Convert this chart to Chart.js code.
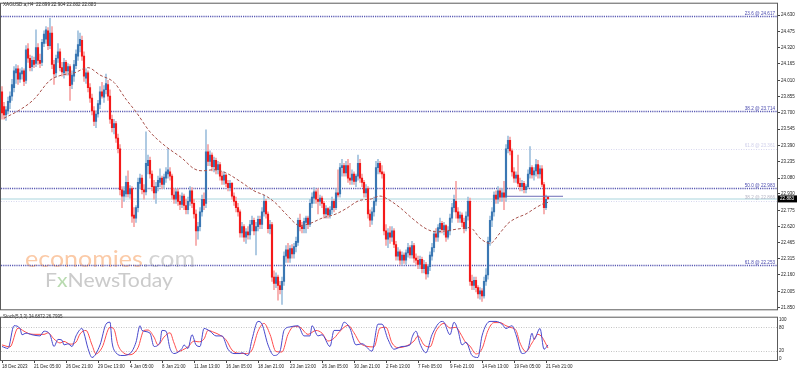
<!DOCTYPE html>
<html>
<head>
<meta charset="utf-8">
<script src="https://cdn.jsdelivr.net/npm/chart.js@4.4.1/dist/chart.umd.min.js"></script>
<style>
  html, body { margin: 0; padding: 0; background: #fff; }
  #wrap { position: relative; width: 798px; height: 371px; overflow: hidden; }
  #main { position: absolute; left: 0; top: 0; }
  #stoch { position: absolute; left: 0; top: 313px; }
</style>
</head>
<body>
<div id="wrap">
  <canvas id="main" width="798" height="313"></canvas>
  <canvas id="stoch" width="798" height="58"></canvas>
</div>
<script>
const symbolTitle = 'XAGUSD.a,H4  22.899 22.904 22.882 22.883';
const stochTitle = 'Stoch(5,3,3) 34.6872 26.7995';

// H4 candles, one per bar
const opens = [
  23.90,23.76,23.68,23.72,23.80,23.86,23.94,24.08,24.12,24.02,
  24.07,24.10,24.01,24.31,24.22,24.14,24.20,24.17,24.32,24.20,
  24.18,24.36,24.40,24.48,24.34,24.46,24.16,24.08,24.22,24.28,
  24.13,24.08,24.18,24.10,24.14,23.97,24.05,24.15,24.24,24.34,
  24.39,24.24,24.03,24.08,23.94,23.84,23.72,23.62,23.69,23.78,
  23.90,23.85,23.92,23.97,23.86,23.64,23.56,23.60,23.46,23.36,
  22.97,22.91,22.93,23.04,22.93,22.98,22.73,22.70,22.80,23.03,
  23.08,22.97,22.95,23.20,23.25,23.12,23.00,22.94,23.00,23.04,
  23.08,23.02,23.08,23.12,23.14,23.10,22.92,22.88,22.95,22.86,
  22.83,22.91,22.82,22.78,22.86,22.96,22.84,22.74,22.58,22.62,
  22.76,22.88,22.84,23.33,23.24,23.30,23.19,23.25,23.16,23.21,
  23.10,23.06,23.11,23.03,22.99,23.03,22.91,22.86,22.80,22.76,
  22.56,22.62,22.52,22.57,22.54,22.64,22.68,22.58,22.62,22.69,
  22.64,22.76,22.86,22.74,22.60,22.64,22.14,22.08,22.14,22.06,
  22.02,22.10,22.34,22.40,22.32,22.41,22.36,22.43,22.47,22.68,
  22.62,22.60,22.66,22.70,22.64,22.84,22.89,22.95,22.88,22.86,
  22.89,22.84,22.74,22.79,22.73,22.78,22.86,22.80,22.94,22.93,
  23.18,23.20,23.13,23.20,23.08,23.06,23.12,23.05,23.10,23.22,
  23.08,23.04,22.94,22.98,22.74,22.68,22.76,22.86,23.18,23.22,
  23.14,23.12,22.58,22.50,22.56,22.52,22.58,22.45,22.34,22.38,
  22.30,22.35,22.30,22.37,22.42,22.35,22.44,22.32,22.30,22.26,
  22.31,22.22,22.26,22.17,22.24,22.34,22.42,22.55,22.52,22.60,
  22.65,22.59,22.63,22.52,22.58,22.70,22.80,22.86,22.76,22.70,
  22.73,22.66,22.60,22.72,22.86,22.10,22.06,22.11,22.04,21.98,
  22.01,21.96,22.10,22.16,22.48,22.68,22.76,22.92,22.88,22.96,
  22.90,22.94,22.90,23.36,23.44,23.34,23.14,23.08,23.11,23.03,
  23.00,23.03,22.97,23.00,23.12,23.18,23.11,23.15,23.21,23.12,
  23.17,23.02,22.80,22.899
];
const highs = [
  23.95,23.80,23.76,23.85,23.90,24.02,24.14,24.16,24.15,24.12,
  24.13,24.12,24.34,24.36,24.25,24.24,24.23,24.49,24.36,24.26,
  24.40,24.48,24.52,24.51,24.60,24.52,24.20,24.25,24.36,24.31,
  24.18,24.22,24.20,24.17,24.16,24.10,24.20,24.30,24.48,24.46,
  24.43,24.28,24.12,24.10,23.98,23.88,23.76,23.72,23.82,23.95,
  23.99,23.96,24.07,24.01,23.92,23.68,23.64,23.62,23.50,23.40,
  23.00,23.00,23.10,23.15,23.01,23.00,22.80,22.82,23.08,23.12,
  23.11,23.02,23.52,23.30,23.28,23.15,23.06,23.04,23.10,23.17,
  23.10,23.12,23.18,23.36,23.18,23.12,22.98,22.98,22.98,22.92,
  22.94,22.93,22.88,22.90,23.00,22.99,22.88,22.78,22.66,22.80,
  22.92,22.94,23.54,23.40,23.34,23.32,23.28,23.27,23.24,23.23,
  23.14,23.14,23.12,23.06,23.06,23.04,22.94,22.90,22.84,22.78,
  22.66,22.64,22.60,22.62,22.68,22.72,22.70,22.66,22.72,22.72,
  22.80,22.92,22.88,22.76,22.68,22.66,22.20,22.18,22.16,22.10,
  22.14,22.38,22.44,22.46,22.44,22.45,22.46,22.52,22.70,22.74,
  22.66,22.70,22.72,22.72,22.88,22.94,22.99,22.97,22.98,22.92,
  22.91,22.86,22.82,22.80,22.81,22.90,22.88,22.98,23.16,23.22,
  23.26,23.22,23.24,23.26,23.22,23.16,23.14,23.12,23.30,23.26,
  23.12,23.06,23.02,23.00,22.78,22.80,22.90,23.24,23.26,23.24,
  23.20,23.14,22.64,22.60,22.62,22.62,22.60,22.48,22.42,22.40,
  22.38,22.37,22.40,22.46,22.44,22.48,22.46,22.36,22.34,22.34,
  22.33,22.30,22.28,22.26,22.38,22.46,22.58,22.60,22.64,22.70,
  22.67,22.66,22.64,22.62,22.74,22.84,22.92,23.05,22.80,22.76,
  22.75,22.70,22.76,22.90,22.89,22.16,22.14,22.14,22.06,22.04,
  22.03,22.14,22.22,22.52,22.72,22.80,22.95,22.96,23.00,22.98,
  22.98,23.05,23.40,23.48,23.47,23.36,23.18,23.14,23.30,23.08,
  23.06,23.05,23.02,23.16,23.38,23.20,23.18,23.26,23.25,23.20,
  23.20,23.04,22.92,22.904
];
const lows = [
  23.64,23.64,23.63,23.69,23.74,23.82,23.90,23.98,23.97,23.99,
  24.02,23.96,23.98,24.18,24.10,24.10,24.13,24.14,24.16,24.13,
  24.15,24.33,24.36,24.30,24.31,24.12,23.97,24.04,24.18,24.10,
  24.05,24.03,24.06,24.06,23.82,23.93,24.00,24.12,24.20,24.28,
  24.20,24.00,23.98,23.90,23.80,23.68,23.58,23.56,23.66,23.74,
  23.84,23.80,23.88,23.82,23.60,23.52,23.50,23.42,23.32,22.92,
  22.80,22.86,22.90,22.90,22.89,22.66,22.62,22.66,22.76,22.98,
  22.93,22.88,22.92,23.12,23.08,22.96,22.88,22.84,22.96,23.00,
  22.98,22.98,23.04,23.08,23.06,22.88,22.84,22.84,22.82,22.78,
  22.80,22.78,22.74,22.74,22.82,22.80,22.70,22.44,22.50,22.58,
  22.72,22.78,22.80,23.20,23.20,23.15,23.14,23.12,23.12,23.06,
  23.02,23.02,23.00,22.96,22.96,22.88,22.82,22.76,22.72,22.52,
  22.52,22.48,22.46,22.50,22.50,22.58,22.54,22.35,22.58,22.60,
  22.60,22.72,22.70,22.56,22.55,22.10,22.02,22.04,21.92,21.98,
  21.88,22.06,22.28,22.28,22.28,22.32,22.32,22.38,22.44,22.58,
  22.56,22.56,22.56,22.60,22.62,22.80,22.84,22.84,22.74,22.82,
  22.80,22.70,22.70,22.70,22.70,22.74,22.76,22.78,22.90,22.90,
  23.10,23.10,23.10,23.04,23.02,23.02,23.02,23.00,23.06,23.04,
  23.00,22.90,22.90,22.70,22.62,22.64,22.72,22.82,23.12,23.12,
  23.08,22.54,22.44,22.42,22.46,22.48,22.42,22.30,22.30,22.26,
  22.26,22.27,22.26,22.33,22.32,22.32,22.28,22.26,22.22,22.22,
  22.18,22.18,22.12,22.14,22.20,22.30,22.38,22.48,22.48,22.56,
  22.56,22.54,22.48,22.50,22.54,22.66,22.76,22.70,22.66,22.66,
  22.62,22.56,22.58,22.68,22.06,22.02,22.02,22.00,21.94,21.93,
  21.91,21.94,22.06,22.12,22.44,22.62,22.72,22.84,22.84,22.86,
  22.86,22.78,22.86,23.32,23.30,23.10,23.04,23.04,23.00,22.96,
  22.96,22.94,22.94,22.98,23.08,23.08,23.06,23.10,23.08,23.08,
  23.00,22.74,22.78,22.882
];
const closes = [
  23.70,23.68,23.73,23.81,23.86,23.97,24.10,24.12,24.02,24.08,
  24.10,24.00,24.30,24.22,24.13,24.20,24.16,24.32,24.20,24.17,
  24.37,24.45,24.49,24.34,24.46,24.16,24.07,24.22,24.28,24.13,
  24.09,24.18,24.10,24.14,23.96,24.06,24.16,24.26,24.35,24.40,
  24.24,24.05,24.08,23.94,23.84,23.72,23.62,23.69,23.79,23.90,
  23.86,23.92,23.98,23.86,23.64,23.56,23.60,23.46,23.36,22.97,
  22.91,22.96,23.04,22.93,22.98,22.72,22.70,22.80,23.04,23.08,
  22.97,22.95,23.22,23.25,23.12,23.00,22.94,23.00,23.06,23.08,
  23.02,23.09,23.14,23.16,23.10,22.92,22.88,22.95,22.86,22.83,
  22.91,22.82,22.78,22.86,22.96,22.84,22.74,22.58,22.62,22.76,
  22.88,22.82,23.33,23.24,23.30,23.19,23.25,23.16,23.21,23.10,
  23.06,23.11,23.03,22.99,23.03,22.91,22.86,22.80,22.76,22.56,
  22.62,22.52,22.57,22.54,22.64,22.68,22.58,22.62,22.69,22.64,
  22.76,22.86,22.74,22.60,22.64,22.14,22.08,22.14,22.06,22.02,
  22.10,22.34,22.40,22.32,22.41,22.36,22.43,22.48,22.68,22.62,
  22.60,22.67,22.70,22.64,22.84,22.90,22.95,22.88,22.86,22.89,
  22.84,22.74,22.79,22.73,22.78,22.86,22.80,22.94,22.92,23.18,
  23.20,23.13,23.20,23.08,23.06,23.12,23.05,23.10,23.22,23.08,
  23.04,22.94,22.98,22.74,22.68,22.76,22.86,23.18,23.22,23.14,
  23.12,22.58,22.50,22.56,22.52,22.58,22.45,22.34,22.38,22.30,
  22.35,22.30,22.37,22.42,22.35,22.44,22.32,22.30,22.26,22.31,
  22.22,22.26,22.17,22.24,22.35,22.42,22.55,22.52,22.61,22.65,
  22.59,22.63,22.52,22.58,22.70,22.80,22.88,22.76,22.70,22.73,
  22.66,22.60,22.72,22.86,22.10,22.06,22.11,22.04,21.98,22.01,
  21.96,22.10,22.16,22.48,22.68,22.76,22.92,22.88,22.96,22.90,
  22.94,22.90,23.36,23.44,23.34,23.14,23.08,23.11,23.03,23.00,
  23.03,22.97,23.00,23.12,23.18,23.11,23.15,23.21,23.12,23.17,
  23.02,22.80,22.88,22.883
];

// moving average [bar, price]
const maPoints = [
  [1,23.65],[9,23.73],[16,23.83],[24,24.01],[30,24.06],[36,24.08],[43,24.13],[49,24.06],
  [56,23.99],[62,23.83],[67,23.71],[74,23.52],[82,23.38],[90,23.27],[96,23.17],[100,23.15],
  [106,23.16],[112,23.13],[119,23.05],[126,22.96],[132,22.91],[137,22.84],[142,22.74],[149,22.63],
  [154,22.65],[160,22.70],[167,22.74],[172,22.79],[179,22.87],[184,22.88],[189,22.91],[192,22.89],
  [199,22.80],[205,22.70],[212,22.60],[217,22.57],[222,22.58],[229,22.60],[234,22.61],[239,22.51],
  [244,22.46],[249,22.56],[253,22.65],[257,22.70],[262,22.74],[267,22.80],[271,22.84],[273,22.85]
];

// stochastic %K and %D [bar, value]
const stochK = [
  [0,31],[3,26],[6,84],[9,77],[10,61],[12,65],[15,61],[19,58],[21,70],[24,61],[26,31],[28,49],
  [30,47],[31,35],[33,38],[35,31],[37,58],[40,77],[41,65],[43,26],[45,3],[49,35],[52,88],[54,93],
  [55,42],[57,15],[60,8],[64,13],[67,42],[69,84],[70,72],[74,65],[76,31],[79,42],[80,72],[82,70],
  [84,26],[86,13],[90,26],[91,35],[93,26],[95,61],[97,35],[99,31],[101,77],[104,70],[107,58],[110,58],
  [113,24],[116,13],[119,13],[120,15],[123,8],[125,49],[128,95],[130,88],[133,35],[136,8],[139,19],[141,72],
  [144,81],[148,84],[151,58],[154,58],[155,84],[158,58],[160,61],[164,31],[166,72],[169,72],[171,93],[174,77],
  [177,35],[180,38],[185,19],[188,88],[190,88],[193,49],[196,24],[200,31],[204,35],[205,54],[207,70],[209,38],
  [212,15],[215,61],[220,95],[221,93],[224,61],[226,93],[228,72],[230,35],[232,42],[235,8],[238,3],[240,58],
  [244,95],[247,95],[250,88],[252,77],[255,84],[257,61],[260,13],[263,24],[265,65],[266,49],[269,77],[271,24],
  [273,35]
];
const stochD = [
  [0,35],[4,30],[8,78],[11,70],[14,63],[17,62],[21,62],[23,66],[26,50],[29,40],[31,44],[34,37],
  [37,42],[39,63],[42,72],[45,35],[47,12],[50,28],[54,80],[56,75],[58,35],[61,14],[64,10],[68,28],
  [71,72],[73,73],[76,55],[78,35],[81,55],[84,66],[86,40],[88,18],[91,24],[93,30],[96,45],[98,43],
  [101,50],[103,72],[106,67],[109,60],[112,48],[115,22],[118,14],[122,13],[125,22],[128,70],[131,90],[134,62],
  [137,18],[140,17],[143,62],[146,82],[149,80],[153,62],[157,72],[160,65],[163,45],[166,52],[169,70],[173,85],
  [176,66],[179,40],[182,32],[186,30],[189,78],[192,80],[195,40],[198,28],[202,32],[206,45],[208,58],[211,35],
  [214,30],[217,70],[221,90],[224,78],[227,80],[229,66],[232,40],[234,32],[237,12],[240,25],[243,72],[246,92],
  [249,92],[252,84],[254,80],[257,72],[259,40],[262,18],[265,40],[268,62],[270,55],[273,27]
];
const stochLevels = [80, 20];
const stochTicks = [100, 80, 20, 0];

const priceTicks = [24.630, 24.475, 24.320, 24.165, 24.010, 23.855, 23.700, 23.545, 23.390, 23.235,
  23.080, 22.930, 22.775, 22.620, 22.465, 22.315, 22.160, 22.005, 21.850];

const fibLevels = [24.617, 23.714, 22.983, 22.253];
const fibNames = ['23.6', '38.2', '50.0', '61.8'];
const fibFaintLevels = [23.361, 22.866];
const fibFaintNames = ['61.8', '38.2'];
const trendLine = [[252.5, 22.908], [280.5, 22.908]];

const xLabels = ['18 Dec 2023', '21 Dec 05:00', '26 Dec 21:00', '29 Dec 13:00', '4 Jan 05:00', '8 Jan 21:00',
  '11 Jan 13:00', '16 Jan 05:00', '18 Jan 21:00', '23 Jan 13:00', '26 Jan 05:00', '30 Jan 21:00',
  '2 Feb 13:00', '7 Feb 05:00', '9 Feb 21:00', '14 Feb 13:00', '19 Feb 05:00', '21 Feb 21:00'];
const xLabelBars = [0, 16, 32, 48, 64, 80, 96, 112, 128, 144, 160, 176, 192, 208, 224, 240, 256, 272];

const BULL = '#3a77b3', BULL_WICK = '#9fc0dd';
const BEAR = '#f41a1a', BEAR_WICK = '#f6a3a3';
const X_MIN = -0.5, X_MAX = 387.5;
const FONT = 'Liberation Sans';

Chart.defaults.font.family = FONT;

const bars = closes.map((c, i) => i);
const isBull = i => closes[i] >= opens[i];

function hLine(ctx, a, y, color, width, dash) {
    ctx.beginPath();
    ctx.setLineDash(dash);
    ctx.strokeStyle = color;
    ctx.lineWidth = width;
    ctx.moveTo(a.left, y);
    ctx.lineTo(a.right, y);
    ctx.stroke();
}

function drawFrame(chart) {
    const { ctx, chartArea: a } = chart;
    ctx.save();
    ctx.setLineDash([]);
    ctx.strokeStyle = '#5a5a5a';
    ctx.lineWidth = 1;
    ctx.strokeRect(a.left - 0.5, a.top - 0.5, a.right - a.left + 1, a.bottom - a.top + 1);
    ctx.restore();
}

function drawWatermark(ctx) {
    ctx.save();
    ctx.textBaseline = 'alphabetic';
    ctx.font = '23px Lato';
    const w1 = ctx.measureText('economies').width;
    const w2 = ctx.measureText('.com').width;
    ctx.translate(25, 267);
    ctx.scale(170 / (w1 + w2), 1);
    ctx.fillStyle = '#fbcaa7';
    ctx.fillText('economies', 0, 0);
    ctx.fillStyle = '#d3d3d3';
    ctx.fillText('.com', w1, 0);
    ctx.restore();

    ctx.save();
    ctx.font = '20px Lato';
    const f = ctx.measureText('F').width;
    const x = ctx.measureText('x').width;
    const rest = ctx.measureText('NewsToday').width;
    ctx.translate(45, 287);
    ctx.scale(128 / (f + x + rest), 1);
    ctx.fillStyle = '#cbcbcb';
    ctx.fillText('F', 0, 0);
    ctx.fillStyle = '#b9dbb0';
    ctx.fillText('x', f, 0);
    ctx.fillStyle = '#cbcbcb';
    ctx.fillText('NewsToday', f + x, 0);
    ctx.restore();
}

const mainOverlay = {
    id: 'mainOverlay',
    beforeDatasetsDraw(chart) {
        const { ctx, chartArea: a, scales: { y } } = chart;
        ctx.save();
        drawWatermark(ctx);
        // bid line
        hLine(ctx, a, y.getPixelForValue(closes[closes.length - 1]), '#d4eaee', 2, []);
        fibFaintLevels.forEach(v => {
            hLine(ctx, a, Math.round(y.getPixelForValue(v)) + 0.5, '#d6d6ee', 1, [1, 1.5]);
        });
        fibLevels.forEach(v => {
            hLine(ctx, a, Math.round(y.getPixelForValue(v)) + 0.5, '#5c5cb4', 1.4, [1.2, 1]);
        });
        ctx.restore();
    },
    afterDatasetsDraw(chart) {
        const { ctx, chartArea: a, scales: { y } } = chart;
        ctx.save();
        ctx.font = '4.6px ' + FONT;
        ctx.textAlign = 'right';
        ctx.textBaseline = 'bottom';
        fibFaintLevels.forEach((v, k) => {
            ctx.fillStyle = k === 0 ? '#cfcfea' : '#b5b5c5';
            ctx.fillText(fibFaintNames[k] + ' @ ' + v.toFixed(3), a.right - 2, y.getPixelForValue(v) - 0.5);
        });
        ctx.fillStyle = '#4a4aae';
        fibLevels.forEach((v, k) => {
            ctx.fillText(fibNames[k] + ' @ ' + v.toFixed(3), a.right - 2, y.getPixelForValue(v) - 0.5);
        });
        ctx.textAlign = 'left';
        ctx.textBaseline = 'middle';
        ctx.fillStyle = '#222';
        ctx.fillText(symbolTitle, 3, 4.5);
        ctx.restore();
    },
    afterDraw(chart) {
        const { ctx, chartArea: a, scales: { y } } = chart;
        drawFrame(chart);
        // last price box on the axis
        const last = closes[closes.length - 1];
        const py = y.getPixelForValue(last);
        ctx.save();
        ctx.fillStyle = '#000';
        ctx.fillRect(a.right + 1, py - 3.5, 19, 7);
        ctx.fillStyle = '#fff';
        ctx.font = '4.6px ' + FONT;
        ctx.textBaseline = 'middle';
        ctx.fillText(last.toFixed(3), a.right + 3, py + 0.3);
        ctx.restore();
    }
};

const stochOverlay = {
    id: 'stochOverlay',
    beforeDatasetsDraw(chart) {
        const { ctx, chartArea: a, scales: { y } } = chart;
        ctx.save();
        stochLevels.forEach(v => {
            hLine(ctx, a, Math.round(y.getPixelForValue(v)) + 0.5, '#c4c4c4', 1, [1, 1.5]);
        });
        ctx.restore();
    },
    afterDraw(chart) {
        const { ctx } = chart;
        drawFrame(chart);
        ctx.save();
        ctx.font = '4.5px ' + FONT;
        ctx.fillStyle = '#333';
        ctx.textBaseline = 'middle';
        ctx.fillText(stochTitle, 3, 3.5);
        ctx.restore();
    }
};

new Chart(document.getElementById('main'), {
    type: 'bar',
    data: {
        datasets: [
            {
                type: 'line',
                data: trendLine.map(([x, y]) => ({ x, y })),
                borderColor: '#6d6db6',
                borderWidth: 1,
                pointRadius: 0,
                order: 0
            },
            {
                type: 'line',
                data: maPoints.map(([x, y]) => ({ x, y })),
                borderColor: '#a8524c',
                borderWidth: 1,
                borderDash: [3, 2],
                pointRadius: 0,
                cubicInterpolationMode: 'monotone',
                order: 1
            },
            {
                data: bars.map(i => ({ x: i, y: [opens[i], closes[i]] })),
                backgroundColor: bars.map(i => isBull(i) ? BULL : BEAR),
                barThickness: 1.5,
                grouped: false,
                order: 2
            },
            {
                data: bars.map(i => ({ x: i, y: [lows[i], highs[i]] })),
                backgroundColor: bars.map(i => isBull(i) ? BULL_WICK : BEAR_WICK),
                barThickness: 1,
                grouped: false,
                order: 3
            }
        ]
    },
    options: {
        responsive: false,
        animation: false,
        events: [],
        layout: { padding: { left: 1, top: 2, right: 0, bottom: 1 } },
        plugins: { legend: { display: false }, tooltip: { enabled: false } },
        scales: {
            x: {
                type: 'linear',
                display: false,
                offset: false,
                min: X_MIN,
                max: X_MAX
            },
            y: {
                position: 'right',
                min: 21.834,
                max: 24.738,
                afterBuildTicks: ax => { ax.ticks = priceTicks.map(v => ({ value: v })); },
                afterFit: ax => { ax.width = 21; },
                border: { display: false },
                grid: { drawOnChartArea: false, tickLength: 3, color: '#444' },
                ticks: {
                    autoSkip: false,
                    padding: 1,
                    color: '#222',
                    font: { size: 4.5, family: FONT },
                    callback: v => v.toFixed(3)
                }
            }
        }
    },
    plugins: [mainOverlay]
});

new Chart(document.getElementById('stoch'), {
    type: 'line',
    data: {
        datasets: [
            {
                data: stochK.map(([x, y]) => ({ x, y })),
                borderColor: '#4848cc',
                borderWidth: 1,
                pointRadius: 0,
                cubicInterpolationMode: 'monotone',
                order: 1
            },
            {
                data: stochD.map(([x, y]) => ({ x, y })),
                borderColor: '#ff4c4c',
                borderWidth: 1,
                pointRadius: 0,
                cubicInterpolationMode: 'monotone',
                order: 2
            }
        ]
    },
    options: {
        responsive: false,
        animation: false,
        events: [],
        layout: { padding: { left: 1, top: 0, right: 0, bottom: 0 } },
        plugins: { legend: { display: false }, tooltip: { enabled: false } },
        scales: {
            x: {
                type: 'linear',
                min: X_MIN,
                max: X_MAX,
                afterBuildTicks: ax => { ax.ticks = xLabelBars.map(v => ({ value: v })); },
                afterFit: ax => { ax.height = 11; },
                border: { display: false },
                grid: { drawOnChartArea: false, tickLength: 3, color: '#444' },
                ticks: {
                    autoSkip: false,
                    maxRotation: 0,
                    align: 'start',
                    padding: 1,
                    color: '#222',
                    font: { size: 4.5, family: FONT },
                    callback: v => xLabels[xLabelBars.indexOf(v)]
                }
            },
            y: {
                position: 'right',
                min: -3.5,
                max: 104.5,
                afterBuildTicks: ax => { ax.ticks = stochTicks.map(v => ({ value: v })); },
                afterFit: ax => { ax.width = 21; },
                border: { display: false },
                grid: { drawOnChartArea: false, drawTicks: false },
                ticks: {
                    autoSkip: false,
                    padding: 2,
                    color: '#222',
                    font: { size: 4.5, family: FONT },
                    callback: v => String(v)
                }
            }
        }
    },
    plugins: [stochOverlay]
});
</script>
</body>
</html>
